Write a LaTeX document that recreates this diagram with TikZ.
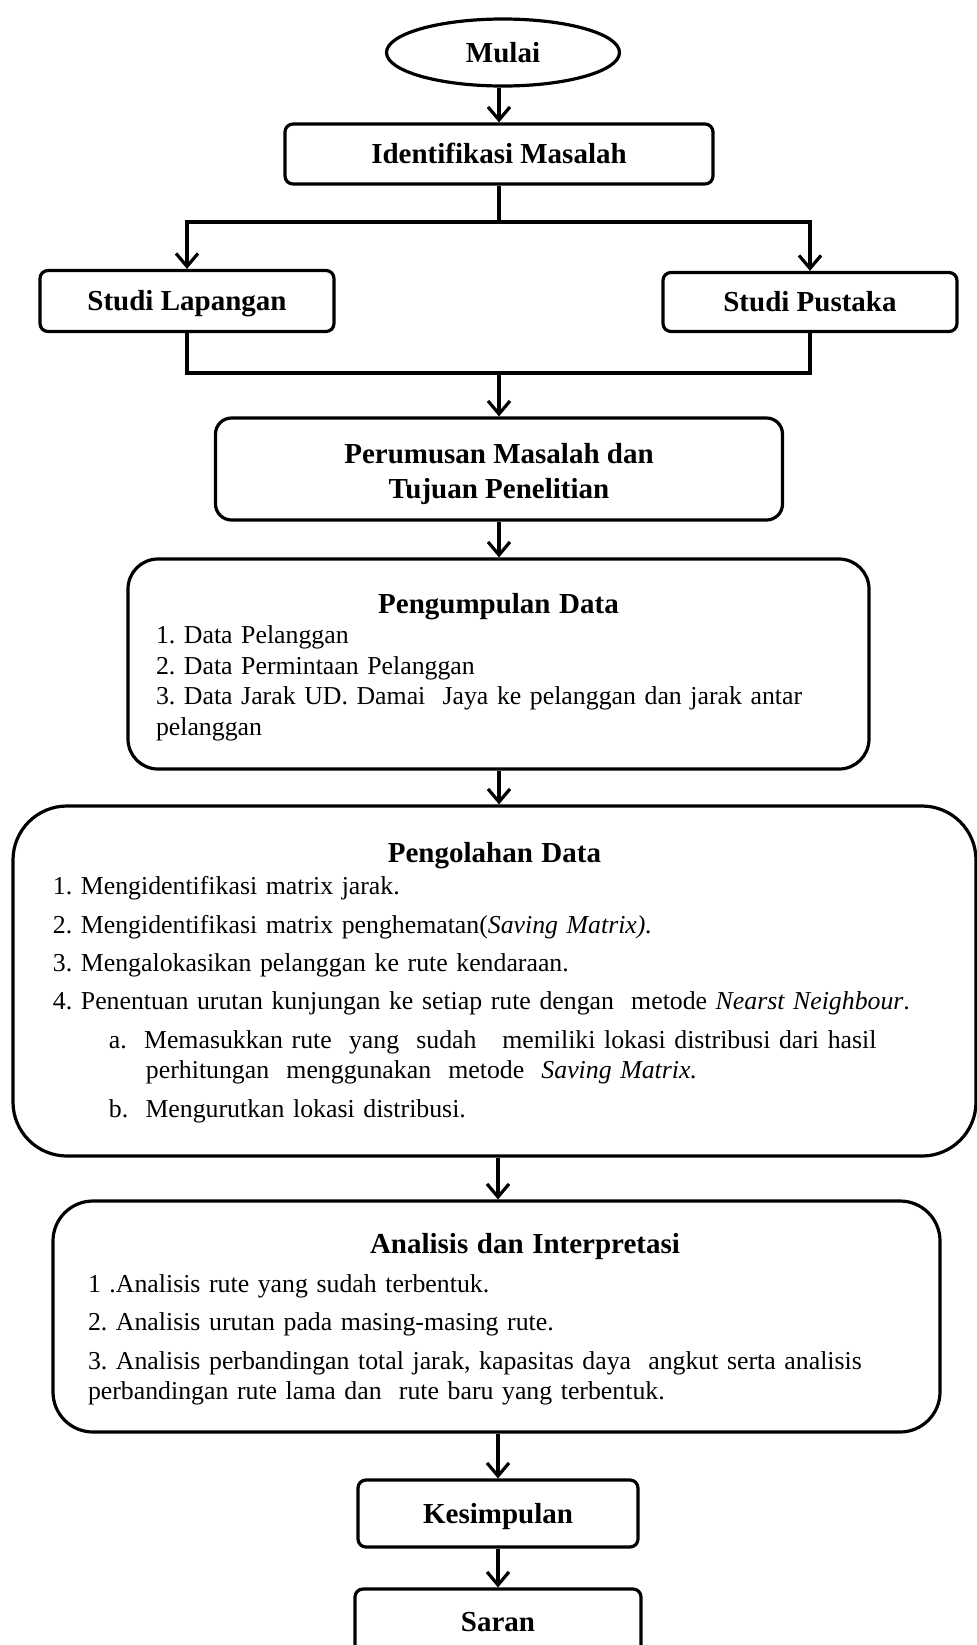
\documentclass[tikz,border=0pt]{standalone}
\usepackage{fontspec}
\setmainfont{Liberation Serif}
\usepackage{tikz}
\usetikzlibrary{shapes.geometric, positioning, arrows, arrows.meta}

\newcommand{\ttlfont}{\fontsize{14.5}{17.5}\selectfont\bfseries}

\begin{document}
\begin{tikzpicture}[x=0.5pt, y=-0.5pt, line width=1.6pt,
    box/.style={draw, rounded corners=4pt, align=center, inner sep=0pt, font=\ttlfont, text height=9.6pt, text depth=0pt},
    bigbox/.style={draw, align=left, inner ysep=0pt, font=\fontsize{12.9}{15.2}\selectfont\frenchspacing},
    arr/.style={-{Straight Barb[length=6.5pt,width=11pt]}}]

      \useasboundingbox (0,0) rectangle (977,1645);

      % Main column
      \node[draw, ellipse, minimum width=116.5pt, minimum height=33.5pt, inner sep=0pt, font=\ttlfont, text height=9.6pt, text depth=0pt] (mulai) at (503,52.5) {Mulai};
      \node[box, minimum width=214pt, minimum height=30pt] (ident) at (499,154) {Identifikasi Masalah};
      \node[box, minimum width=147pt, minimum height=30.5pt] (lapangan) at (187,301) {Studi Lapangan};
      \node[box, minimum width=147pt, minimum height=29.5pt] (pustaka) at (810,302) {Studi Pustaka};
      \node[draw, rounded corners=8pt, align=center, inner sep=0pt, font=\ttlfont, text depth=0pt, minimum width=283.5pt, minimum height=51pt] (perumusan) at (499,469) {\rule{0pt}{12pt}Perumusan Masalah dan\\Tujuan Penelitian};

      \node[bigbox, rounded corners=15pt, text width=342.5pt, inner xsep=14pt, minimum height=105pt] (pengumpulan) at (498.5,664) {%
        {\centering\ttlfont\rule{0pt}{13pt}Pengumpulan Data\par}
        1. Data Pelanggan\\
        2. Data Permintaan Pelanggan\\
        3. Data Jarak UD. Damai\ \ Jaya ke pelanggan dan jarak antar\\
        pelanggan};

      \node[bigbox, rounded corners=27pt, text width=441.5pt, inner xsep=20pt, minimum height=175pt] (pengolahan) at (494.5,981) {%
        {\centering\ttlfont\rule{0pt}{11.5pt}Pengolahan Data\par}\vspace{1pt}
        1. Mengidentifikasi matrix jarak.\\[4pt]
        2. Mengidentifikasi matrix penghematan(\textit{Saving Matrix).}\\[4pt]
        3. Mengalokasikan pelanggan ke rute kendaraan.\\[4pt]
        4. Penentuan urutan kunjungan ke setiap rute dengan\ \ metode \textit{Nearst Neighbour}.\\[4pt]
        \hspace*{28pt}a.\ \ Memasukkan rute\ \ yang\ \ sudah\ \ \ memiliki lokasi distribusi dari hasil\\
        \hspace*{46.5pt}perhitungan\ \ menggunakan\ \ metode\ \ \textit{Saving Matrix.}\\[4pt]
        \hspace*{28pt}b.\ \ Mengurutkan lokasi distribusi.};

      \node[bigbox, rounded corners=20pt, text width=408.5pt, inner xsep=17.5pt, minimum height=115.5pt] (analisis) at (496.5,1316.5) {%
        {\centering\hspace*{28.5pt}\ttlfont\rule{0pt}{13pt}Analisis dan Interpretasi\par}\vspace{4pt}
        1 .Analisis rute yang sudah terbentuk.\\[4pt]
        2. Analisis urutan pada masing-masing rute.\\[4pt]
        3. Analisis perbandingan total jarak, kapasitas daya\ \ angkut serta analisis\\
        perbandingan rute lama dan\ \ rute baru yang terbentuk.};

      \node[box, minimum width=140pt, minimum height=33.5pt] (kesimpulan) at (498,1513.5) {Kesimpulan};
      \node[box, minimum width=143pt, minimum height=33pt] (saran) at (498,1622) {Saran};

      % Branch and join
      \coordinate (split) at (499,222);
      \coordinate (join) at (499,373);

      % Connectors
      \draw[arr] (mulai.south -| ident) -- (ident);
      \draw (ident) -- (split);
      \draw[arr] (split) -| (lapangan);
      \draw[arr] (split) -| (pustaka);
      \draw (lapangan) |- (join);
      \draw (pustaka) |- (join);
      \draw[arr] (join) -- (perumusan);
      \draw[arr] (perumusan) -- (perumusan |- pengumpulan.north);
      \draw[arr] (pengumpulan.south -| perumusan) -- (perumusan |- pengolahan.north);
      \draw[arr] (pengolahan.south -| kesimpulan) -- (analisis.north -| kesimpulan);
      \draw[arr] (analisis.south -| kesimpulan) -- (kesimpulan);
      \draw[arr] (kesimpulan) -- (saran);
  \end{tikzpicture}
\end{document}
